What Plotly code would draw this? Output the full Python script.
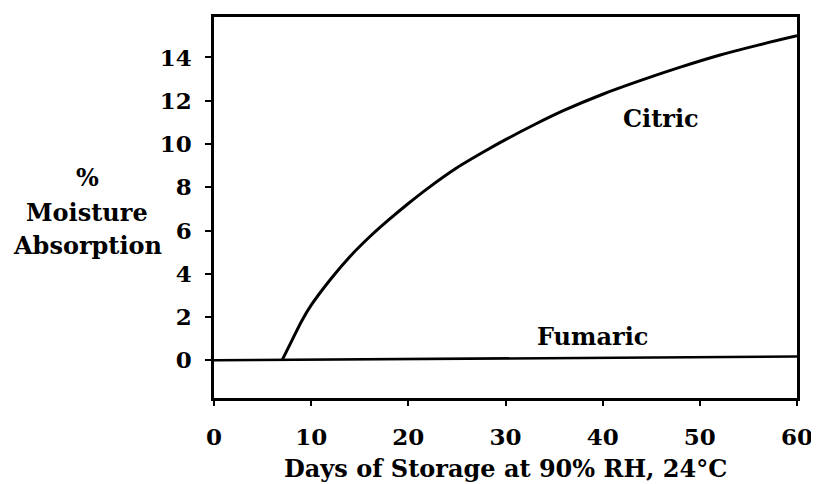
import plotly.graph_objects as go

# Data
citric_days = [7, 8, 9, 10, 12, 14, 16, 18, 20, 22, 25, 28, 30, 33, 36, 40, 44, 48, 52, 56, 60]
citric_moist = [0, 0.9, 1.8, 2.55, 3.75, 4.8, 5.7, 6.5, 7.25, 7.95, 8.9, 9.7, 10.2, 10.9, 11.55,
                12.3, 12.95, 13.55, 14.1, 14.57, 15.0]
fumaric_days = [0, 60]
fumaric_moist = [0, 0.18]
x_ticks = [0, 10, 20, 30, 40, 50, 60]
y_ticks = [0, 2, 4, 6, 8, 10, 12, 14]
y_title_lines = ["%", "Moisture", "Absorption"]

FONT = dict(family="DejaVu Serif", size=24, color="black", weight="bold")
TICKFONT = dict(family="DejaVu Serif", size=23, color="black", weight="bold")

fig = go.Figure()
fig.add_trace(go.Scatter(x=fumaric_days, y=fumaric_moist, mode="lines",
                         line=dict(color="black", width=2.5), showlegend=False))
fig.add_trace(go.Scatter(x=citric_days, y=citric_moist, mode="lines",
                         line=dict(color="black", width=3, shape="spline", smoothing=0.8),
                         showlegend=False))

fig.add_annotation(x=46, y=11.2, text="Citric", showarrow=False, font=FONT)
fig.add_annotation(x=39, y=1.1, text="Fumaric", showarrow=False, font=FONT)
for line, shift in zip(y_title_lines, [30, -5, -38]):
    fig.add_annotation(xref="paper", yref="paper", x=-0.217, y=0.5, xanchor="center",
                       yanchor="middle", yshift=shift, text=line, showarrow=False, font=FONT)
fig.add_annotation(xref="paper", yref="paper", x=0.5, y=-0.186, xanchor="center", yanchor="middle",
                   text="Days of Storage at 90% RH, 24°C", showarrow=False, font=FONT)

fig.update_xaxes(range=[0, 60], tickvals=x_ticks, ticks="outside", ticklen=5, tickwidth=2,
                 tickcolor="black", showline=True, linewidth=2.5, linecolor="black", mirror=True,
                 showgrid=False, zeroline=False, tickfont=TICKFONT, ticklabelstandoff=12)
fig.update_yaxes(range=[-1.74, 15.87], tickvals=y_ticks, ticks="outside", ticklen=6, tickwidth=2,
                 tickcolor="black", showline=True, linewidth=2.5, linecolor="black", mirror=True,
                 showgrid=False, zeroline=False, tickfont=TICKFONT, ticklabelstandoff=9)

# page body adds an 8px margin, so the figure is sized to fit inside the window
fig.update_layout(width=811, height=476, margin=dict(l=206, r=17, t=6, b=86),
                  plot_bgcolor="white", paper_bgcolor="white")
fig.write_html("out.html")
